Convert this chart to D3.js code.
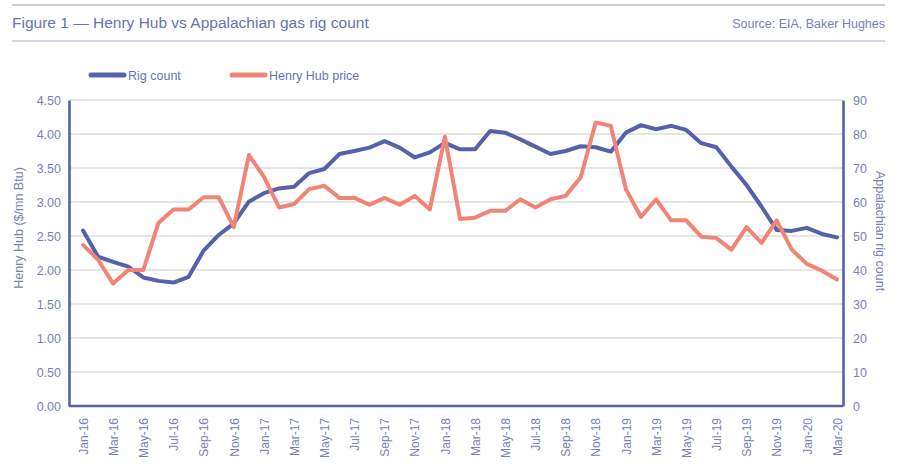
<!DOCTYPE html>
<html>
<head>
<meta http-equiv="Content-Type" content="text/html;charset=utf-8">
<script type="text/javascript" src="https://cdn.jsdelivr.net/npm/d3@7"></script>
<style>
  body { margin: 0; background: #fff; }
  text { font-family: "Liberation Sans", Arial, sans-serif; }
</style>
</head>
<body>
<div id="chart"></div>
<script type="text/javascript">

// monthly, Jan-16 .. Mar-20
var months = ["Jan-16","Feb-16","Mar-16","Apr-16","May-16","Jun-16","Jul-16","Aug-16","Sep-16","Oct-16","Nov-16","Dec-16",
  "Jan-17","Feb-17","Mar-17","Apr-17","May-17","Jun-17","Jul-17","Aug-17","Sep-17","Oct-17","Nov-17","Dec-17",
  "Jan-18","Feb-18","Mar-18","Apr-18","May-18","Jun-18","Jul-18","Aug-18","Sep-18","Oct-18","Nov-18","Dec-18",
  "Jan-19","Feb-19","Mar-19","Apr-19","May-19","Jun-19","Jul-19","Aug-19","Sep-19","Oct-19","Nov-19","Dec-19",
  "Jan-20","Feb-20","Mar-20"];

var rigCount = [51.6, 43.9, 42.4, 41.0, 37.8, 36.8, 36.3, 38.0, 45.7, 50.3, 53.7, 60.1,
  62.6, 64.0, 64.5, 68.5, 69.7, 74.1, 75.0, 76.0, 77.9, 76.0, 73.1, 74.6,
  77.4, 75.5, 75.5, 80.9, 80.4, 78.4, 76.3, 74.1, 75.0, 76.4, 76.1, 74.8,
  80.4, 82.6, 81.4, 82.4, 81.2, 77.3, 76.1, 70.4, 65.0, 58.6, 51.8, 51.5,
  52.4, 50.6, 49.6];

var henryHub = [2.37, 2.15, 1.80, 2.00, 2.00, 2.69, 2.89, 2.89, 3.07, 3.07, 2.63, 3.69,
  3.37, 2.92, 2.97, 3.19, 3.24, 3.06, 3.06, 2.96, 3.06, 2.96, 3.09, 2.89,
  3.96, 2.75, 2.77, 2.87, 2.87, 3.04, 2.92, 3.04, 3.09, 3.36, 4.17, 4.12,
  3.19, 2.78, 3.04, 2.73, 2.73, 2.49, 2.47, 2.30, 2.63, 2.40, 2.73, 2.30,
  2.09, 1.99, 1.86];

var priceTicks = [0, 0.5, 1, 1.5, 2, 2.5, 3, 3.5, 4, 4.5];
var rigTicks = [0, 10, 20, 30, 40, 50, 60, 70, 80, 90];

var width = 900, height = 476;
var plotLeft = 69, plotRight = 843, plotTop = 100, plotBottom = 406;

var blue = "#5561a8", red = "#f08577", textCol = "#7a80b8", grid = "#dcdcdc";

var svg = d3.select("#chart").append("svg")
    .attr("width", width)
    .attr("height", height);

// header
svg.append("line").attr("x1", 12).attr("x2", 885).attr("y1", 5).attr("y2", 5)
    .attr("stroke", "#b9bcd9").attr("stroke-width", 1.5);
svg.append("line").attr("x1", 12).attr("x2", 885).attr("y1", 41).attr("y2", 41)
    .attr("stroke", "#a9acd0").attr("stroke-width", 1.2);
svg.append("text").attr("x", 12).attr("y", 28)
    .style("font-size", "15.5px").style("fill", "#6a71b6")
    .text("Figure 1 \u2014 Henry Hub vs Appalachian gas rig count");
svg.append("text").attr("x", 885).attr("y", 28).attr("text-anchor", "end")
    .style("font-size", "12.5px").style("fill", "#7a80b8")
    .text("Source: EIA, Baker Hughes");

var x = d3.scalePoint().domain(months).range([83, 837]);
var yL = d3.scaleLinear().domain([0, 4.5]).range([plotBottom, plotTop]);
var yR = d3.scaleLinear().domain([0, 90]).range([plotBottom, plotTop]);

// gridlines
svg.append("g").selectAll("line")
    .data(priceTicks.slice(1))
    .enter().append("line")
    .attr("x1", plotLeft).attr("x2", plotRight)
    .attr("y1", function(d) { return yL(d); })
    .attr("y2", function(d) { return yL(d); })
    .attr("stroke", grid).attr("stroke-width", 1.6);

// left axis
var gL = svg.append("g").attr("transform", "translate(" + plotLeft + ",0)")
    .call(d3.axisLeft(yL).tickValues(priceTicks).tickFormat(d3.format(".2f")).tickSize(0).tickPadding(8));
gL.select(".domain").attr("stroke", blue).attr("stroke-width", 2.6);
gL.selectAll("text").style("font-size", "12.5px").style("fill", textCol).style("font-family", "Liberation Sans, Arial, sans-serif");

// right axis
var gR = svg.append("g").attr("transform", "translate(" + plotRight + ",0)")
    .call(d3.axisRight(yR).tickValues(rigTicks).tickSize(0).tickPadding(10));
gR.select(".domain").attr("stroke", blue).attr("stroke-width", 2.6);
gR.selectAll("text").style("font-size", "12.5px").style("fill", textCol).style("font-family", "Liberation Sans, Arial, sans-serif");

// bottom axis
var gB = svg.append("g").attr("transform", "translate(0," + plotBottom + ")")
    .call(d3.axisBottom(x).tickValues(months.filter(function(d, i) { return i % 2 == 0; })).tickSize(0).tickPadding(0));
gB.select(".domain").attr("d", "M" + plotLeft + ",0H" + plotRight).attr("stroke", blue).attr("stroke-width", 2.6);
gB.selectAll("text")
    .attr("transform", "translate(0,12) rotate(-90)")
    .attr("text-anchor", "end")
    .attr("x", 0).attr("y", 0).attr("dy", "0.35em")
    .style("font-size", "12px").style("fill", textCol).style("font-family", "Liberation Sans, Arial, sans-serif");

// axis titles
svg.append("text")
    .attr("transform", "translate(23,228) rotate(-90)")
    .attr("text-anchor", "middle")
    .style("font-size", "12.5px").style("fill", textCol)
    .text("Henry Hub ($/mn Btu)");
svg.append("text")
    .attr("transform", "translate(876,231) rotate(90)")
    .attr("text-anchor", "middle")
    .style("font-size", "12.5px").style("fill", textCol)
    .text("Appalachian rig count");

// lines
var rigLine = d3.line()
    .x(function(d, i) { return x(months[i]); })
    .y(function(d) { return yR(d); });
var hhLine = d3.line()
    .x(function(d, i) { return x(months[i]); })
    .y(function(d) { return yL(d); });

svg.append("path").datum(rigCount)
    .attr("d", rigLine)
    .attr("fill", "none").attr("stroke", blue).attr("stroke-width", 4)
    .attr("stroke-linejoin", "round").attr("stroke-linecap", "round");

svg.append("path").datum(henryHub)
    .attr("d", hhLine)
    .attr("fill", "none").attr("stroke", red).attr("stroke-width", 4)
    .attr("stroke-linejoin", "round").attr("stroke-linecap", "round");

// legend
var legend = [{name: "Rig count", color: blue, x: 91}, {name: "Henry Hub price", color: red, x: 232}];
var lg = svg.append("g").selectAll("g").data(legend).enter().append("g");
lg.append("line")
    .attr("x1", function(d) { return d.x; })
    .attr("x2", function(d) { return d.x + 33; })
    .attr("y1", 75).attr("y2", 75)
    .attr("stroke", function(d) { return d.color; })
    .attr("stroke-width", 5).attr("stroke-linecap", "round");
lg.append("text")
    .attr("x", function(d) { return d.x + 37; })
    .attr("y", 79.5)
    .style("font-size", "12.5px").style("fill", "#6a71b6")
    .text(function(d) { return d.name; });

</script>
</body>
</html>
